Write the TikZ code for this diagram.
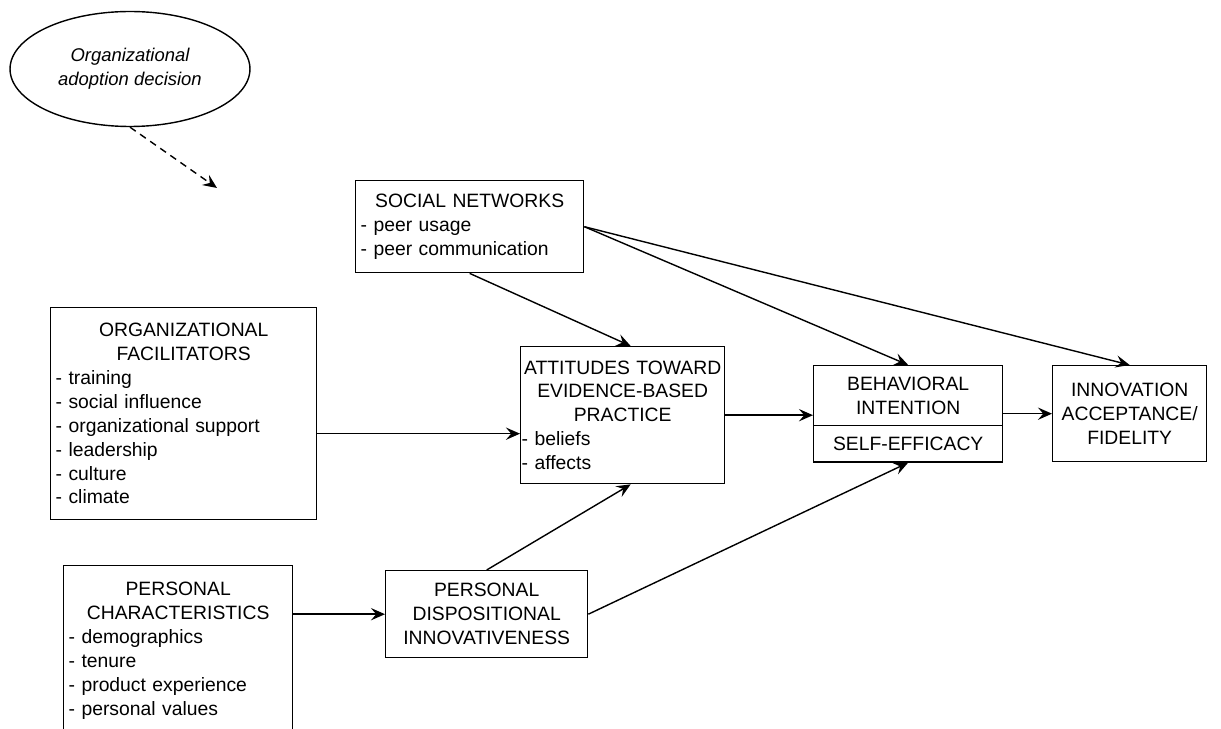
\documentclass[tikz,border=0pt]{standalone}
\usepackage{fontspec}
\setmainfont{Liberation Sans}
\usetikzlibrary{arrows.meta,shapes,positioning,calc}

\newcommand{\boxhead}[1]{{\centering #1\par}}

\begin{document}
\begin{tikzpicture}[x=0.02cm,y=-0.02cm,>={Stealth[length=8pt,width=7pt,inset=3pt]},line width=0.8pt]
	\tikzstyle{factor}=[draw,anchor=north west,align=left,inner xsep=0.1cm,inner ysep=0pt,font=\fontsize{11}{13.6}\selectfont]
	\tikzstyle{decision}=[draw,ellipse,minimum width=4.8cm,minimum height=2.3cm,align=center,font=\fontsize{10.5}{13.6}\selectfont\itshape]

	\useasboundingbox (0,0) rectangle (1221,729);
	\clip (0,0) rectangle (1221,729);

	\node[decision](orgdec) at (130,69){Organizational\\adoption decision};
	\coordinate (adopt) at (217,188);

	\node[factor,text width=4.36cm,minimum height=1.84cm](social) at (355,180){\boxhead{SOCIAL NETWORKS}- peer usage\\- peer communication};
	\node[factor,text width=5.12cm,minimum height=4.24cm](orgfac) at (50,307){\boxhead{ORGANIZATIONAL\\FACILITATORS}- training\\- social influence\\- organizational support\\- leadership\\- culture\\- climate};
	\node[factor,text width=4.38cm,minimum height=3.4cm](perschar) at (63,565){\boxhead{PERSONAL\\CHARACTERISTICS}- demographics\\- tenure\\- product experience\\- personal values};
	\node[factor,inner xsep=0.02cm,text width=4.04cm,minimum height=2.74cm](att) at (520,346){\boxhead{ATTITUDES TOWARD\\EVIDENCE-BASED\\PRACTICE}- beliefs\\- affects};
	\node[factor,text width=3.84cm,minimum height=1.74cm,align=center](persdisp) at (385,570){PERSONAL\\DISPOSITIONAL\\INNOVATIVENESS};
	\node[factor,rectangle split,rectangle split parts=2,text width=3.58cm,inner ysep=6pt,align=center](beh) at (813,365){BEHAVIORAL\\INTENTION\nodepart{two}SELF-EFFICACY};
	\node[factor,text width=2.88cm,minimum height=1.92cm,align=center](innov) at (1052,365){INNOVATION\\ACCEPTANCE/\\FIDELITY};

	\coordinate (fac) at ($(orgfac.east)+(0,20)$);

	\path[->,dash pattern=on 4pt off 3pt] (orgdec.south) edge (adopt);
	\path[->] (fac) edge (fac -| att.west);
	\path[->] (social.south) edge ([xshift=0.16cm]att.north);
	\path[->] (social.east) edge (beh.north);
	\path[->] (social.east) edge (innov.north);
	\path[->] (att.east) edge (att.east -| beh.west);
	\path[->] (beh.east |- innov.west) edge (innov.west);
	\path[->] (persdisp.west -| perschar.east) edge (persdisp.west);
	\path[->] (persdisp.north) edge ([xshift=0.16cm]att.south);
	\path[->] (persdisp.east) edge (beh.south);
\end{tikzpicture}
\end{document}
